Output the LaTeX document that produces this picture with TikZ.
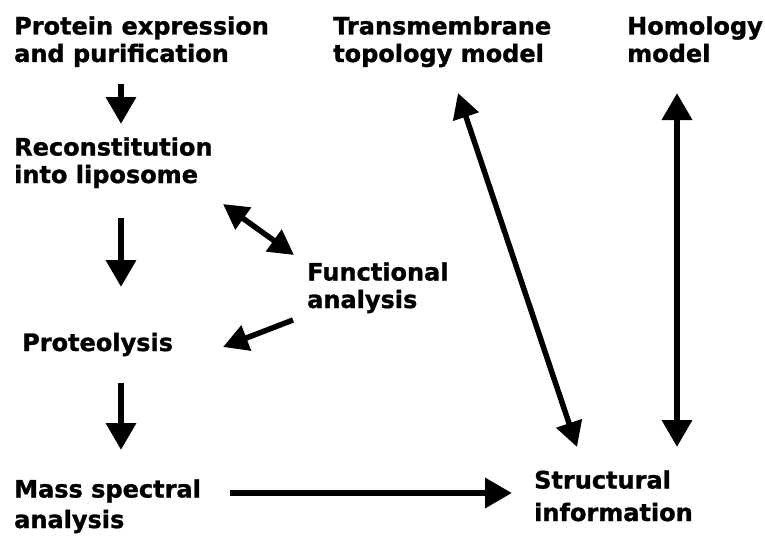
\documentclass[tikz,border=0pt]{standalone}
\usepackage{fontspec}
\setmainfont{DejaVu Sans}[BoldFeatures={FakeBold=1.2}]
\usetikzlibrary{arrows.meta}
\begin{document}
\begin{tikzpicture}[x=1pt,y=-1pt,
  lbl/.style={anchor=base west,inner sep=0pt,align=left,font=\fontsize{24}{27.5}\selectfont\bfseries},
  arr/.style={line width=6.5pt,-{Triangle[length=27pt,width=29pt]}},
  darr/.style={line width=6.5pt,{Triangle[length=27pt,width=29pt]}-{Triangle[length=27pt,width=29pt]}},
  sarr/.style={line width=5.5pt,-{Triangle[length=25pt,width=26pt]}},
  sdarr/.style={line width=5.5pt,{Triangle[length=25pt,width=26pt]}-{Triangle[length=25pt,width=26pt]}}]
\useasboundingbox (0,0) rectangle (765,535);
\fill[white] (0,0) rectangle (765,535);
% anchor = baseline of the last line
\node[lbl] (pe) at (14,62) {Protein expression\\and purification};
\node[lbl] (rec) at (14,183) {Reconstitution\\into liposome};
\node[lbl] (prot) at (22,351) {Proteolysis};
\node[lbl] (mass) at (14,528) {Mass spectral\\[3pt]analysis};
\node[lbl] (func) at (307,308) {Functional\\analysis};
\node[lbl] (tm) at (333,62) {Transmembrane\\topology model};
\node[lbl] (hom) at (627,62) {Homology\\model};
\node[lbl] (str) at (534,521) {Structural\\[5pt]information};
% arrow end points
\coordinate (a1s) at (121,84);   \coordinate (a1e) at (121,124);
\coordinate (a2s) at (121,218);  \coordinate (a2e) at (121,287);
\coordinate (a3s) at (121,383);  \coordinate (a3e) at (121,450);
\coordinate (a4s) at (230,493);  \coordinate (a4e) at (512,493);
\coordinate (a5s) at (223,204);  \coordinate (a5e) at (294,255);
\coordinate (a6s) at (293,320);  \coordinate (a6e) at (223,347);
\coordinate (a7s) at (458,93);   \coordinate (a7e) at (577,447);
\coordinate (a8s) at (677,93);   \coordinate (a8e) at (677,447);
\draw[arr] (a1s) -- (a1e);
\draw[arr] (a2s) -- (a2e);
\draw[arr] (a3s) -- (a3e);
\draw[arr] (a4s) -- (a4e);
\draw[sdarr] (a5s) -- (a5e);
\draw[sarr] (a6s) -- (a6e);
\draw[sdarr] (a7s) -- (a7e);
\draw[darr] (a8s) -- (a8e);
\end{tikzpicture}
\end{document}
